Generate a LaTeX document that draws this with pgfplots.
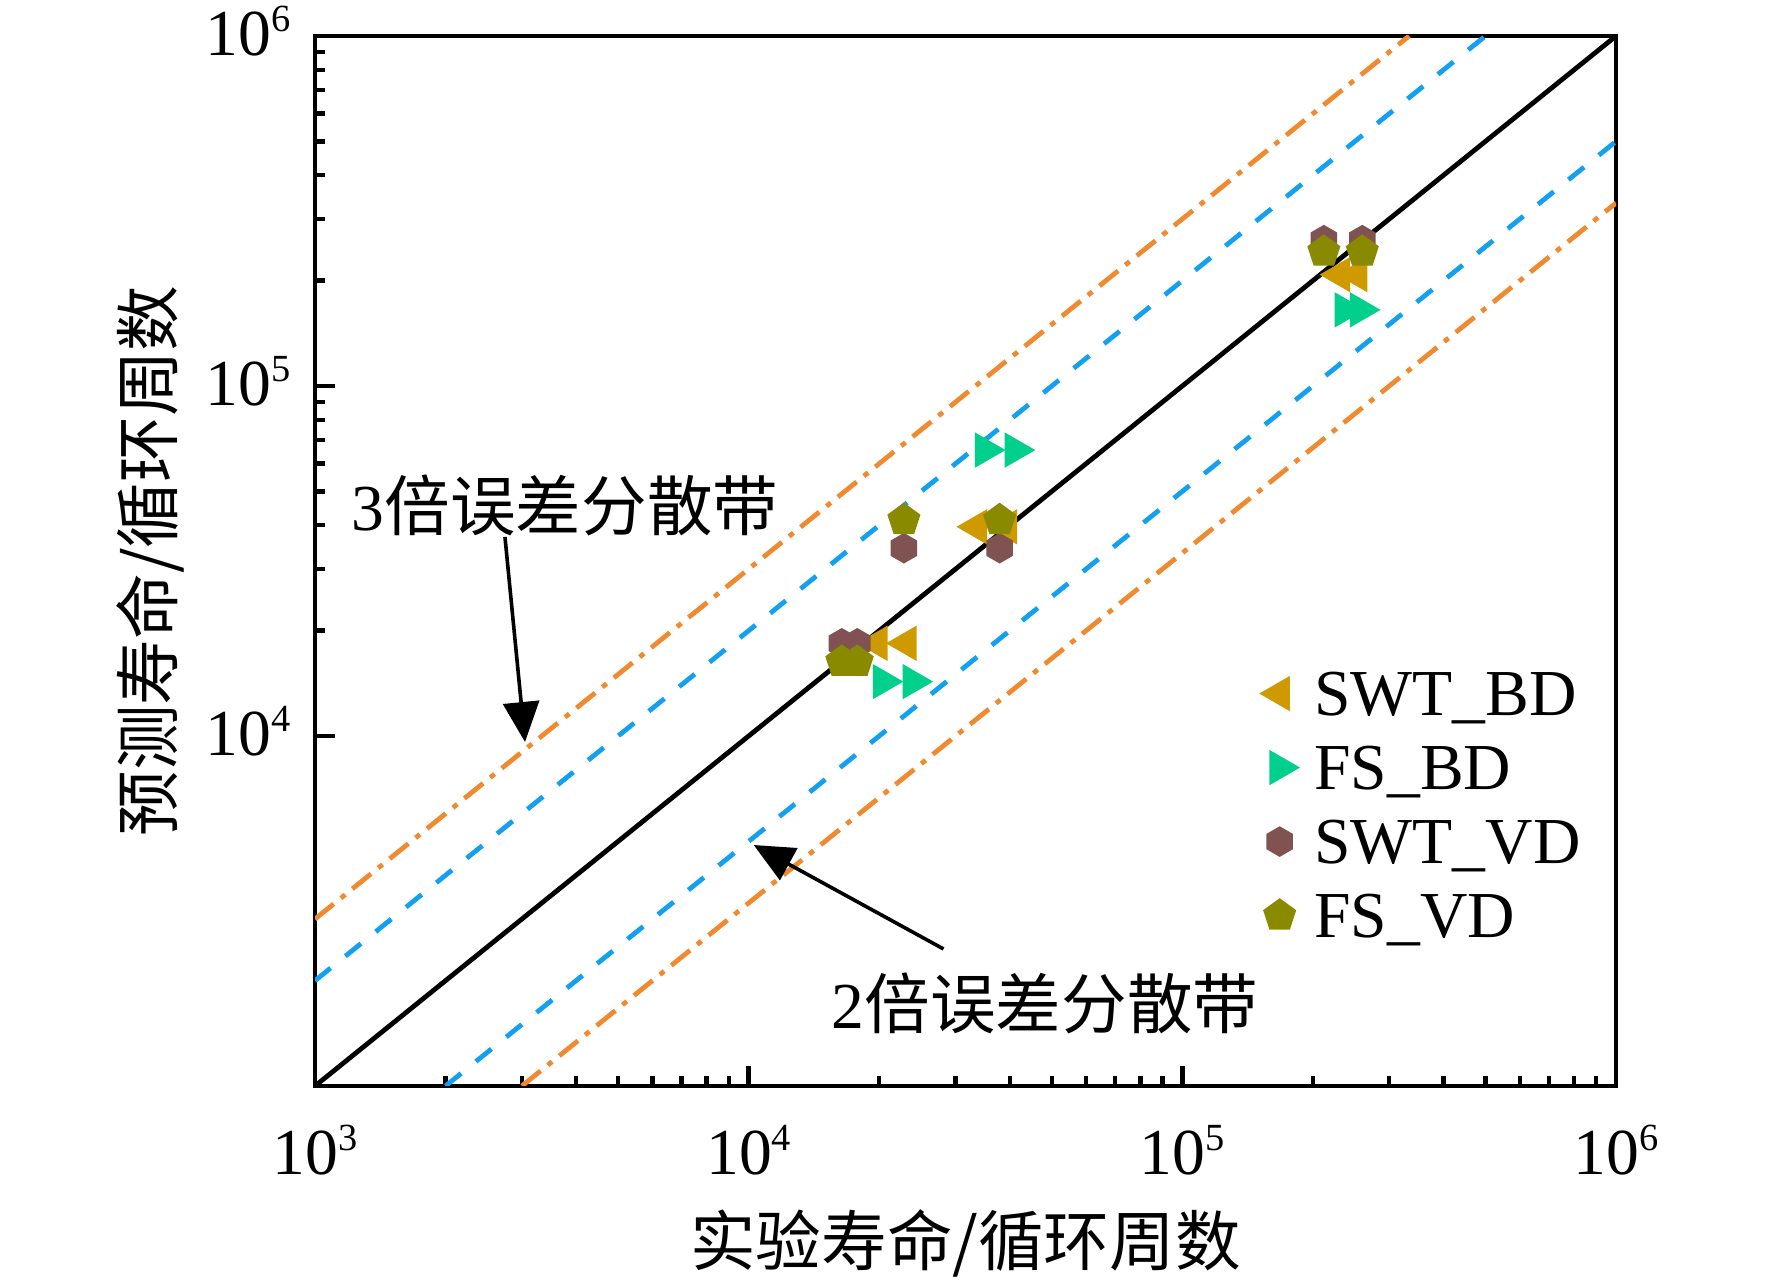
\documentclass[border=0pt]{standalone}
\usepackage{fontspec}
\setmainfont{Liberation Serif}
\newfontfamily\cjk{Noto Sans CJK SC}
\usepackage{pgfplots}
\pgfplotsset{compat=1.18}
\usetikzlibrary{arrows.meta}

\definecolor{cSWTBD}{RGB}{206,154,0}
\definecolor{cFSBD}{RGB}{0,208,140}
\definecolor{cSWTVD}{RGB}{128,82,82}
\definecolor{cFSVD}{RGB}{138,138,0}
\definecolor{cBlue}{RGB}{20,160,240}
\definecolor{cOrange}{RGB}{240,138,48}

\pgfdeclareplotmark{hexagon*}{%
  \pgfpathmoveto{\pgfpointpolar{90}{\pgfplotmarksize}}%
  \pgfpathlineto{\pgfpointpolar{150}{\pgfplotmarksize}}%
  \pgfpathlineto{\pgfpointpolar{210}{\pgfplotmarksize}}%
  \pgfpathlineto{\pgfpointpolar{270}{\pgfplotmarksize}}%
  \pgfpathlineto{\pgfpointpolar{330}{\pgfplotmarksize}}%
  \pgfpathlineto{\pgfpointpolar{30}{\pgfplotmarksize}}%
  \pgfpathclose
  \pgfusepathqfillstroke
}

\newcommand\tl[1]{10\raisebox{0.37em}{\fontsize{9.6pt}{9.6pt}\selectfont #1}}
\newcommand\fs{\fontsize{16.4pt}{19pt}\selectfont}

\begin{document}
\begin{tikzpicture}
\begin{axis}[
  xmode=log, ymode=log,
  xmin=1e3, xmax=1e6, ymin=1e3, ymax=1e6,
  scale only axis, width=325.25pt, height=262.5pt,
  axis line style={line width=1.2pt},
  tick align=inside, tick pos=left,
  major tick length=5pt, minor tick length=2.6pt,
  every tick/.style={black, line width=1.1pt},
  xtick={1e3,1e4,1e5,1e6}, xticklabels={\tl{3},\tl{4},\tl{5},\tl{6}},
  ytick={1e4,1e5,1e6}, yticklabels={\tl{4},\tl{5},\tl{6}},
  tick label style={font=\fs},
  xticklabel style={anchor=base, inner sep=0pt, yshift=-22.25pt},
  yticklabel style={anchor=base east, inner sep=0pt, xshift=-6pt, yshift=-5pt},
  xlabel={\cjk 实验寿命/循环周数},
  ylabel={\cjk 预测寿命/循环周数},
  xlabel style={at={(axis description cs:0.5,-0.1495)}, anchor=center, font=\fs},
  ylabel style={at={(axis description cs:-0.1268,0.5)}, anchor=center, font=\fs},
  legend style={draw=none, fill=none, inner sep=0pt, at={(0.7264,0.4086)}, anchor=north west,
    column sep=4pt, row sep=0.6pt, font=\fs,
    nodes={inner sep=0pt, text height=14.4pt, text depth=3.5pt}},
  legend cell align=left,
  legend image code/.code={\draw[#1] plot coordinates {(0pt,0pt)};},
]
\addplot[only marks, color=cSWTBD, mark=triangle*, mark size=4.7pt,
  mark options={rotate=90, fill=cSWTBD, draw=cSWTBD}] coordinates {
  (1.98e4,1.84e4) (2.31e4,1.84e4)
  (3.36e4,3.96e4) (3.94e4,3.96e4)
  (2.31e5,2.08e5) (2.53e5,2.08e5)
};
\addlegendentry{SWT\_BD}
\addplot[only marks, color=cFSBD, mark=triangle*, mark size=4.7pt,
  mark options={rotate=-90, fill=cFSBD, draw=cFSBD}] coordinates {
  (2.04e4,1.43e4) (2.39e4,1.43e4)
  (3.51e4,6.56e4) (4.11e4,6.56e4)
  (2.37e5,1.65e5) (2.57e5,1.65e5)
};
\addlegendentry{FS\_BD}
\addplot[only marks, color=cSWTVD, mark=hexagon*, mark size=3.6pt,
  mark options={fill=cSWTVD, draw=cSWTVD}] coordinates {
  (1.64e4,1.84e4) (1.78e4,1.84e4)
  (2.28e4,3.44e4) (3.79e4,3.44e4)
  (2.12e5,2.61e5) (2.60e5,2.61e5)
};
\addlegendentry{SWT\_VD}
\addplot[only marks, color=cFSVD, mark=pentagon*, mark size=4.1pt,
  mark options={fill=cFSVD, draw=cFSVD}] coordinates {
  (1.64e4,1.63e4) (1.78e4,1.63e4)
  (2.28e4,4.14e4) (3.79e4,4.14e4)
  (2.12e5,2.42e5) (2.60e5,2.42e5)
};
\addlegendentry{FS\_VD}

\addplot[black, line width=1.2pt, forget plot] coordinates {(1e3,1e3) (1e6,1e6)};
\addplot[cBlue, line width=1.2pt, dash pattern=on 5pt off 4.75pt, forget plot] coordinates {(1e3,2e3) (5e5,1e6)};
\addplot[cBlue, line width=1.2pt, dash pattern=on 5pt off 4.75pt, forget plot] coordinates {(2e3,1e3) (1e6,5e5)};
\addplot[cOrange, line width=1.2pt, dash pattern=on 6pt off 2.3pt on 1.4pt off 2.3pt, forget plot] coordinates {(1e3,3e3) (3.33333e5,1e6)};
\addplot[cOrange, line width=1.2pt, dash pattern=on 6pt off 2.3pt on 1.4pt off 2.3pt, forget plot] coordinates {(3e3,1e3) (1e6,3.33333e5)};

\node[font=\fs, inner sep=0pt] at (rel axis cs:0.1922,0.5533) {3{\cjk 倍误差分散带}};
\node[font=\fs, inner sep=0pt] at (rel axis cs:0.5611,0.0790) {2{\cjk 倍误差分散带}};
\draw[line width=0.9pt, -{Triangle[length=10pt,width=9pt]}] (rel axis cs:0.1460,0.5229) -- (rel axis cs:0.1614,0.3276);
\draw[line width=0.9pt, -{Triangle[length=10pt,width=9pt]}] (rel axis cs:0.4831,0.1305) -- (rel axis cs:0.3372,0.2295);
\end{axis}
\pgfresetboundingbox
\path[use as bounding box] (-78.75pt,-49.25pt) rectangle (364.25pt,271.5pt);
\end{tikzpicture}
\end{document}
